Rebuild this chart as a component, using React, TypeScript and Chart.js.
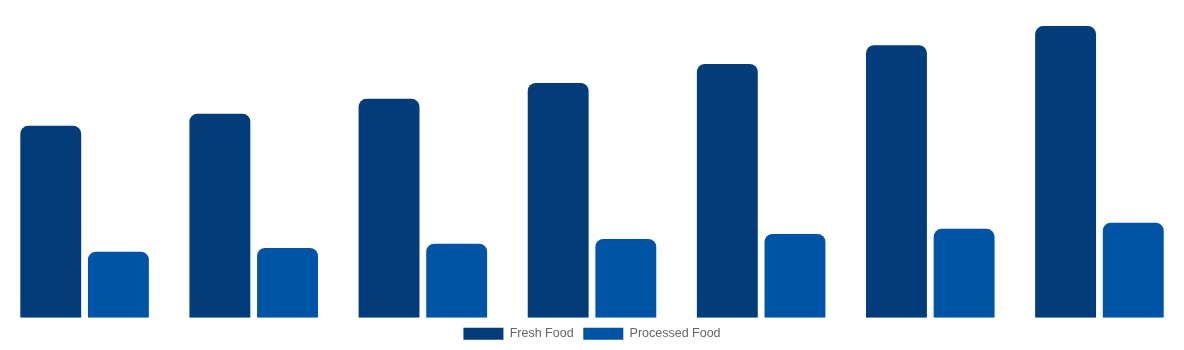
import React, { useEffect, useRef } from "react";
import { Chart, registerables } from "chart.js";

Chart.register(...registerables);

const categories = ["2018", "2019", "2020", "2021", "2022", "2023", "2024"];
const freshFood = [60.4, 64.2, 68.9, 73.9, 79.9, 85.8, 91.8];
const processedFood = [20.8, 22.0, 23.3, 24.8, 26.4, 28.0, 29.9];
const seriesNames = ["Fresh Food", "Processed Food"];
const seriesColors = ["#023c7a", "#0054a6"];

export default function App() {
  const ref = useRef<HTMLCanvasElement | null>(null);
  useEffect(() => {
    document.body.style.margin = "0";
    if (!ref.current) return;
    const chart = new Chart(ref.current, {
      type: "bar",
      data: {
        labels: categories,
        datasets: [
          {
            label: seriesNames[0],
            data: freshFood,
            backgroundColor: seriesColors[0],
            borderRadius: 8,
            borderSkipped: "bottom",
          },
          {
            label: seriesNames[1],
            data: processedFood,
            backgroundColor: seriesColors[1],
            borderRadius: 8,
            borderSkipped: "bottom",
          },
        ],
      },
      options: {
        animation: false,
        responsive: true,
        maintainAspectRatio: false,
        layout: { padding: 0 },
        scales: {
          x: { display: false },
          y: { display: false, min: 0, max: 100 },
        },
        plugins: {
          legend: {
            position: "bottom",
            labels: {
              boxWidth: 40,
              boxHeight: 12,
              padding: 9.7,
              color: "#666",
              font: { family: "'Liberation Sans', Arial, sans-serif", size: 12.5 },
            },
          },
          tooltip: { enabled: false },
        },
      },
    });
    return () => chart.destroy();
  }, []);
  return (
    <div style={{ width: "1184px", height: "350px", position: "relative" }}>
      <canvas ref={ref} />
    </div>
  );
}
